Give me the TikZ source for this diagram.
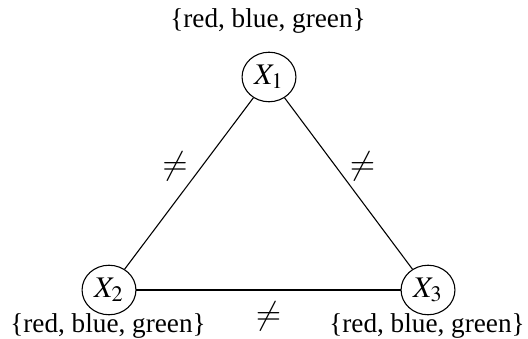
\documentclass[tikz,border=0pt]{standalone}
\usepackage{mathptmx}
\usepackage{fontspec}
\setmainfont{Liberation Serif}
\usetikzlibrary{positioning,shapes.geometric}

\begin{document}
\begin{tikzpicture}[
    x=0.3674pt, y=-0.3674pt,
    every node/.style={align=center},
    var/.style={ellipse, draw, thin, minimum width=19.8pt, minimum height=18.2pt, inner sep=0pt, font=\fontsize{11}{13}\selectfont},
    dom/.style={inner sep=1pt},
    cons/.style={font=\fontsize{12}{14}\selectfont, inner sep=2pt},
    link/.style={thin},
    baselink/.style={line width=0.8pt}
]
\useasboundingbox (0,0) rectangle (528,339);

% Variables
\node[var] (x1) at (269,77) {$X_1$};
\node[var] (x2) at (109,290) {$X_2$};
\node[var] (x3) at (428,290) {$X_3$};

% Domains
\node[dom] (d1) at (268,21) {\{red, blue, green\}};
\node[dom] (d2) at (108,326) {\{red, blue, green\}};
\node[dom] (d3) at (427,326) {\{red, blue, green\}};

% Constraints
\draw[link] (x1) -- (x2) node[cons, pos=0.4, left=3pt] (c12) {$\neq$};
\draw[link] (x1) -- (x3) node[cons, pos=0.4, right=3pt] (c13) {$\neq$};
\draw[baselink] (x2) -- (x3) node[cons, midway, below=2pt] (c23) {$\neq$};

\end{tikzpicture}
\end{document}
